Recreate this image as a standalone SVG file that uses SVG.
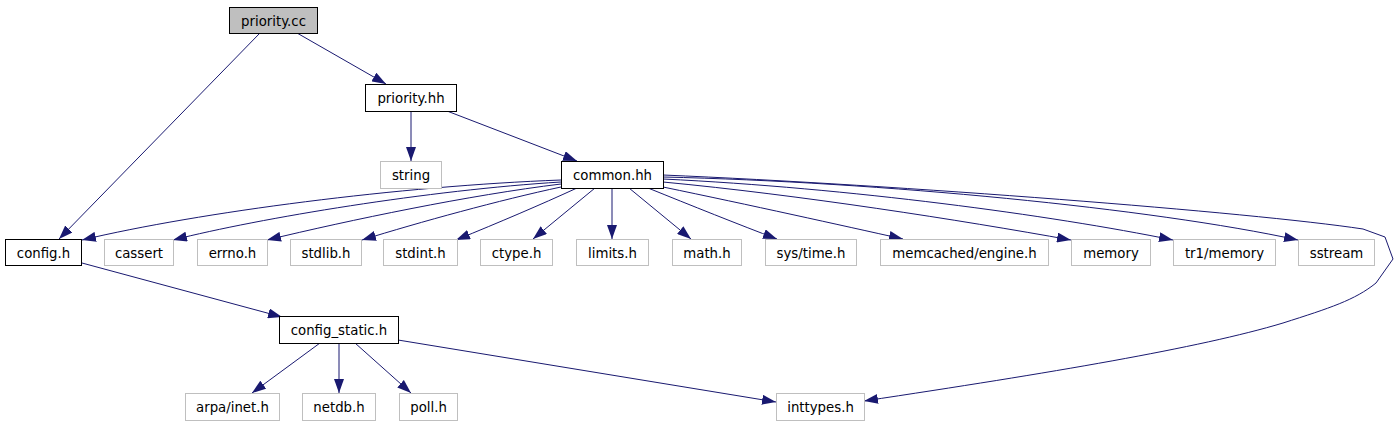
<svg xmlns="http://www.w3.org/2000/svg" width="1400" height="427" viewBox="0 0 1400 427">
<style>
text{font-family:"DejaVu Sans","Liberation Sans",sans-serif;font-size:13.3px;fill:#000;text-anchor:middle}
.n rect{fill:#fff;stroke:#000;stroke-width:1}
.s rect{fill:#fff;stroke:#bfbfbf;stroke-width:1}
#edges path{fill:none;stroke:#191970;stroke-width:1;marker-end:url(#a)}
</style>
<defs>
<marker id="a" markerWidth="14" markerHeight="10" refX="14" refY="5" orient="auto" markerUnits="userSpaceOnUse">
<path d="M0,0 L14,5 L0,10 z" fill="#191970"/>
</marker>
</defs>
<rect width="1400" height="427" fill="#fff"/>
<g id="edges">
<path d="M297,33 L386,84"/>
<path d="M260,33 L59,239"/>
<path d="M411,111 L411,161"/>
<path d="M447,111 L577,161"/>
<path d="M561,180 C400,186 200,212 82,240"/>
<path d="M561,182 C430,190 260,218 173,240"/>
<path d="M561,184 C470,195 350,220 267,240"/>
<path d="M561,187 C500,200 420,222 362,240"/>
<path d="M577,188 C540,205 500,222 456,240"/>
<path d="M595,188 L533,239"/>
<path d="M612,188 L612,239"/>
<path d="M629,188 L691,239"/>
<path d="M648,188 C690,205 740,225 777,239"/>
<path d="M663,187 C750,205 840,225 903,239"/>
<path d="M663,182 C800,195 960,220 1071,240"/>
<path d="M663,179 C850,188 1050,215 1173,240"/>
<path d="M663,177 C880,182 1150,208 1298,240"/>
<path d="M663,175 C900,185 1250,212 1363,229 L1385,237 L1393,259 L1376,283 C1355,300 1330,308 1283,323 C1200,348 1050,373 864,401"/>
<path d="M82,263 L282,317"/>
<path d="M320,343 L252,393"/>
<path d="M339,343 L339,393"/>
<path d="M355,343 L411,393"/>
<path d="M398,340 L776,402"/>
</g>
<g id="priority_cc"><rect x="229.5" y="7.5" width="88" height="26" fill="#bfbfbf" stroke="#000"/><text x="273.5" y="25.5">priority.cc</text></g>
<g id="priority_hh" class="n"><rect x="365.5" y="84.5" width="91" height="27"/><text x="411" y="103">priority.hh</text></g>
<g id="string" class="s"><rect x="380.5" y="161.5" width="61" height="27"/><text x="411" y="180">string</text></g>
<g id="common_hh" class="n"><rect x="561.5" y="161.5" width="102" height="27"/><text x="612.5" y="180">common.hh</text></g>
<g id="config_h" class="n"><rect x="5.5" y="239.5" width="76" height="26"/><text x="43.5" y="257.5">config.h</text></g>
<g id="cassert" class="s"><rect x="104.5" y="239.5" width="69" height="26"/><text x="139" y="257.5">cassert</text></g>
<g id="errno_h" class="s"><rect x="197.5" y="239.5" width="70" height="26"/><text x="232.5" y="257.5">errno.h</text></g>
<g id="stdlib_h" class="s"><rect x="290.5" y="239.5" width="71" height="26"/><text x="326" y="257.5">stdlib.h</text></g>
<g id="stdint_h" class="s"><rect x="383.5" y="239.5" width="74" height="26"/><text x="420.5" y="257.5">stdint.h</text></g>
<g id="ctype_h" class="s"><rect x="480.5" y="239.5" width="72" height="26"/><text x="516.5" y="257.5">ctype.h</text></g>
<g id="limits_h" class="s"><rect x="576.5" y="239.5" width="72" height="26"/><text x="612.5" y="257.5">limits.h</text></g>
<g id="math_h" class="s"><rect x="672.5" y="239.5" width="69" height="26"/><text x="707" y="257.5">math.h</text></g>
<g id="sys_time_h" class="s"><rect x="765.5" y="239.5" width="91" height="26"/><text x="811" y="257.5">sys/time.h</text></g>
<g id="memcached_engine_h" class="s"><rect x="880.5" y="239.5" width="168" height="26"/><text x="964.5" y="257.5">memcached/engine.h</text></g>
<g id="memory" class="s"><rect x="1071.5" y="239.5" width="79" height="26"/><text x="1111" y="257.5">memory</text></g>
<g id="tr1_memory" class="s"><rect x="1173.5" y="239.5" width="102" height="26"/><text x="1224.5" y="257.5">tr1/memory</text></g>
<g id="sstream" class="s"><rect x="1298.5" y="239.5" width="76" height="26"/><text x="1336.5" y="257.5">sstream</text></g>
<g id="config_static_h" class="n"><rect x="279.5" y="316.5" width="119" height="27"/><text x="339" y="335">config_static.h</text></g>
<g id="arpa_inet_h" class="s"><rect x="185.5" y="393.5" width="94" height="27"/><text x="232.5" y="412">arpa/inet.h</text></g>
<g id="netdb_h" class="s"><rect x="302.5" y="393.5" width="73" height="27"/><text x="339" y="412">netdb.h</text></g>
<g id="poll_h" class="s"><rect x="399.5" y="393.5" width="58" height="27"/><text x="428.5" y="412">poll.h</text></g>
<g id="inttypes_h" class="s"><rect x="776.5" y="393.5" width="88" height="27"/><text x="820.5" y="412">inttypes.h</text></g>
</svg>
